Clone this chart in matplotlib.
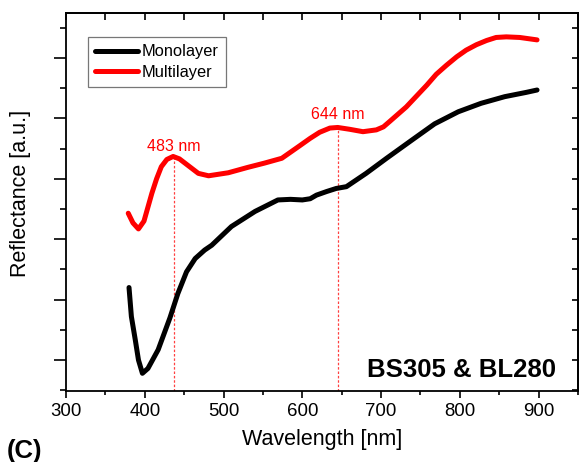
import matplotlib
matplotlib.use("Agg")
import matplotlib.pyplot as plt
from matplotlib.ticker import MultipleLocator, NullFormatter

plt.rcParams['font.family'] = ['Liberation Sans', 'DejaVu Sans']

# Monolayer (black)
wl_mono = [380, 383, 388, 392, 397, 404, 417, 432, 442, 453, 464, 476, 485,
           510, 540, 569, 585, 600, 610, 618, 631, 643, 656, 681, 707, 739,
           768, 798, 827, 857, 884, 898]
r_mono = [2.20, 1.72, 1.33, 1.00, 0.78, 0.86, 1.17, 1.70, 2.10, 2.46, 2.68,
          2.82, 2.90, 3.21, 3.46, 3.65, 3.66, 3.65, 3.67, 3.73, 3.79, 3.84,
          3.87, 4.09, 4.34, 4.64, 4.91, 5.11, 5.25, 5.36, 5.43, 5.47]

# Multilayer (red)
wl_multi = [379, 385, 392, 399, 409, 415, 421, 428, 436, 444, 451, 468, 481,
            506, 531, 552, 574, 597, 610, 622, 635, 645, 660, 677, 694, 703,
            711, 732, 745, 758, 770, 783, 796, 808, 821, 834, 846, 859, 876,
            898]
r_multi = [3.43, 3.27, 3.17, 3.30, 3.76, 4.00, 4.20, 4.32, 4.37, 4.33, 4.26,
           4.09, 4.05, 4.10, 4.19, 4.26, 4.34, 4.55, 4.67, 4.77, 4.84, 4.85,
           4.82, 4.78, 4.81, 4.86, 4.95, 5.19, 5.37, 5.55, 5.73, 5.88, 6.02,
           6.13, 6.22, 6.29, 6.34, 6.35, 6.34, 6.30]

# peak markers
peak_pos = [437, 645]
peak_val = [4.37, 4.85]
peak_labels = ["483 nm", "644 nm"]
label_val = [4.53, 5.06]

x_ticks = [300, 400, 500, 600, 700, 800, 900]

W, H = 579, 462
fig = plt.figure(figsize=(W / 100, H / 100), dpi=100)
ax = fig.add_axes([66 / W, 1 - 391 / H, 512 / W, 378 / H])

ax.plot(wl_mono, r_mono, color='black', lw=3.6, solid_joinstyle='round',
        solid_capstyle='round', label='Monolayer')
ax.plot(wl_multi, r_multi, color='#ff0000', lw=3.6, solid_joinstyle='round',
        solid_capstyle='round', label='Multilayer')

ymin, ymax = 0.487, 6.745
ax.set_xlim(300, 950)
ax.set_ylim(ymin, ymax)

for xp, yp, lab, ly in zip(peak_pos, peak_val, peak_labels, label_val):
    ax.plot([xp, xp], [ymin, yp], color='#ff4040', lw=0.9,
            linestyle=(0, (2, 1.5)), zorder=1)
    ax.text(xp, ly, lab, color='#ff0000', fontsize=11.5, ha='center',
            va='center')

ax.text(0.958, 0.055, "BS305 & BL280", transform=ax.transAxes,
        fontsize=18.5, fontweight='bold', ha='right', va='center')

# ticks
ax.set_xticks(x_ticks)
ax.xaxis.set_minor_locator(MultipleLocator(50))
ax.yaxis.set_major_locator(MultipleLocator(1))
ax.yaxis.set_minor_locator(MultipleLocator(0.5))
ax.yaxis.set_major_formatter(NullFormatter())
ax.tick_params(axis='x', which='major', direction='out', length=5, width=1.2,
               labelsize=13.4, pad=4)
ax.tick_params(axis='x', which='minor', direction='out', length=3, width=1.2)
ax.tick_params(axis='y', which='major', direction='out', length=9, width=1.2)
ax.tick_params(axis='y', which='minor', direction='out', length=4.5, width=1.2)
for s in ax.spines.values():
    s.set_linewidth(1.3)

top = ax.secondary_xaxis('top')
top.set_xticks(list(range(300, 951, 50)))
top.tick_params(direction='in', length=5, width=1.2, labeltop=False)
top.set_xticklabels([])
top.spines['top'].set_linewidth(1.3)

right = ax.secondary_yaxis('right')
right.yaxis.set_major_locator(MultipleLocator(0.5))
right.tick_params(direction='in', length=4, width=1.2, labelright=False)
right.yaxis.set_major_formatter(NullFormatter())
right.spines['right'].set_linewidth(1.3)

ax.set_xlabel("Wavelength [nm]", fontsize=15.5, labelpad=6)
ax.set_ylabel("Reflectance [a.u.]", fontsize=15.5)
ax.yaxis.set_label_coords(-0.068, 0.522)

leg = ax.legend(loc='upper left', bbox_to_anchor=(0.043, 0.9365),
                borderaxespad=0, fontsize=11.8, frameon=True, fancybox=False,
                edgecolor='#555555', handlelength=2.6, handletextpad=0.25,
                labelspacing=0.35, borderpad=0.45)
leg.get_frame().set_linewidth(0.9)

fig.text(7 / W, 1 - 451 / H, "(C)", fontsize=18.5, fontweight='bold',
         ha='left', va='center')

fig.savefig("out.png", dpi=100)
